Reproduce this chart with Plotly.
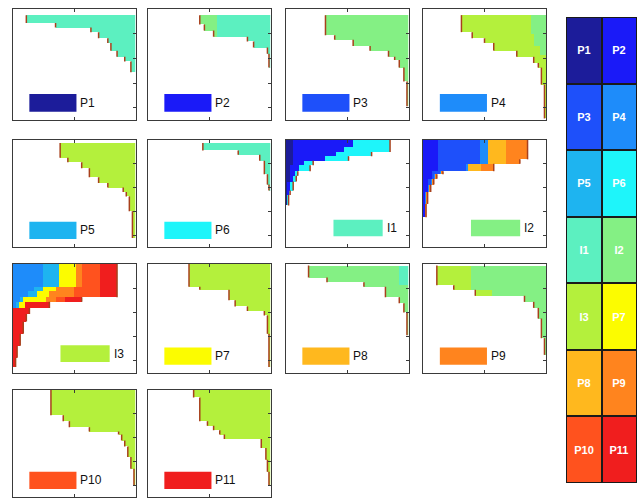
import numpy as np
import plotly.graph_objects as go

# ---------------- data ----------------
names = ["P1", "P2", "P3", "P4", "P5", "P6", "I1", "I2", "I3", "P7", "P8", "P9", "P10", "P11"]
colors = ["#1c1c9a", "#1a1af8", "#1e50fa", "#1e8cfa", "#1eb4f0", "#1ef5fa", "#5cf0c0",
          "#84f084", "#b4f03c", "#fcfc00", "#ffb81e", "#ff841e", "#ff521e", "#f01e1e"]

key_rows = [["P1", "P2"], ["P3", "P4"], ["P5", "P6"], ["I1", "I2"], ["I3", "P7"], ["P8", "P9"], ["P10", "P11"]]
panel_grid = [["P1", "P2", "P3", "P4"], ["P5", "P6", "I1", "I2"], ["I3", "P7", "P8", "P9"], ["P10", "P11"]]

# layer = (colour name, anchor side, first row, [(row_end, column edge), ...])
layers_P1 = [("I1", "R", 2, [(4.5, 4.5), (6, 14), (7.5, 25.5), (9.5, 28), (11, 31), (13.5, 32), (15.5, 34), (17, 36.5), (20.5, 38.5)])]
layers_P2 = [("I1", "R", 2, [(5, 17), (7, 18.5), (9, 21.5), (10.5, 32.5), (12.5, 34.5), (14.5, 39), (19, 39.5)]),
             ("I2", "L", 2, [(9, 22.5)])]
layers_P3 = [("I2", "R", 2, [(8.5, 13), (10, 16), (12, 22), (13.5, 27.5), (15.5, 33.5), (16.5, 35.5), (19, 37), (23.5, 38.5), (31.5, 39.5)])]
layers_P4 = [("I3", "R", 2, [(7.5, 12.5), (9.5, 16), (11, 20), (13.5, 23), (15.5, 30.5), (17.5, 36), (19, 37.5), (24.5, 38.5), (35.5, 39.5)]),
             ("I2", "R", 2, [(8, 35), (12, 36), (15, 38)])]
layers_P5 = [("I3", "R", 1, [(6, 15.5), (7.5, 18), (9.5, 22.5), (12.5, 25), (14.5, 28), (16, 31), (17.5, 36), (19, 37), (24, 38), (33, 39)])]
layers_P6 = [("I1", "R", 1, [(3.5, 18), (5, 29.5), (7, 36.5), (11.5, 38), (15, 39), (17, 39.5)])]
layers_I1 = [("P6", "L", 0, [(4, 34), (5.5, 28), (7, 20.5), (8.5, 9), (10.5, 8), (12, 4), (14, 3.5), (17, 2.5), (18.5, 1.5), (22, 1)]),
             ("P2", "L", 0, [(2.5, 22), (4, 19), (5.5, 16.5), (7, 13), (8.5, 6), (10.5, 4.5), (12, 3), (14, 2.5), (17, 1.5), (18.5, 1), (22, 0.5)]),
             ("P1", "L", 0, [(8.5, 2.5), (14, 1.5), (22, 0.5)])]
layers_I2 = [("P9", "L", 0, [(6.5, 34), (8, 31.5), (10.5, 23), (11.5, 6.5), (13, 4.5), (15, 3.5), (17.5, 2.5), (21.5, 1.5), (26, 1)]),
             ("P8", "L", 0, [(8, 27), (10.5, 19)]),
             ("P4", "L", 0, [(8, 21), (10.5, 14.5), (11.5, 6), (13, 4), (15, 3), (17.5, 2), (21.5, 1), (26, 0.5)]),
             ("P3", "L", 0, [(8, 18.5), (10.5, 14), (11.5, 5.5), (13, 3.5), (15, 2.5), (17.5, 1.5), (21.5, 0.5)]),
             ("P2", "L", 0, [(10.5, 5), (13, 3), (17.5, 1.5), (26, 0.5)])]
layers_I3 = [("P11", "L", 0, [(11, 34), (12.5, 22.5), (14.5, 12), (16.5, 5.5), (19, 4.5), (23, 3.5), (27, 2.5), (31, 1.5), (34, 1)]),
             ("P10", "L", 0, [(11, 28.5), (12.5, 17)]),
             ("P9", "L", 0, [(7.5, 22.5), (11, 20), (12.5, 14)]),
             ("P7", "L", 0, [(7.5, 20.5), (9, 14), (11, 12), (12.5, 11), (14.5, 4)]),
             ("P5", "L", 0, [(7.5, 15.2), (9, 10), (11, 8), (12.5, 3.5), (14.5, 2)]),
             ("P4", "L", 0, [(7.5, 10), (9, 7), (11, 5), (12.5, 2.5), (14.5, 1)])]
layers_P7 = [("I3", "R", 0, [(7.5, 13.5), (8.5, 17), (12, 26.5), (14, 28.5), (15.5, 32.5), (17, 38), (23, 39), (34, 39.5)])]
layers_P8 = [("I2", "R", 0.5, [(4.5, 7.5), (6, 13.5), (7.5, 25.5), (11, 32.5), (13, 37), (16, 38.5), (23.5, 39.5)]),
             ("I1", "R", 0.5, [(7, 37)])]
layers_P9 = [("I2", "R", 0.5, [(7, 4.5), (8.5, 10), (10.5, 17), (12.5, 33), (14.5, 36), (18, 37.5), (24.5, 38.5), (30, 39.5)]),
             ("I3", "L", 0.5, [(8.5, 15.5), (10.5, 22.5)])]
layers_P10 = [("I3", "R", 0, [(8.5, 12.5), (10.5, 16.5), (12.5, 18.5), (14, 25), (15, 34.5), (17, 35.5), (19, 36.5), (22.5, 37.5), (26.5, 38.5), (32, 39.5)])]
layers_P11 = [("I3", "R", 0, [(2.5, 15), (10.5, 17), (12, 19.5), (13.5, 21.5), (15, 23.5), (16.5, 25), (19.5, 37), (23.5, 38.5), (27.5, 39), (32, 39.5)])]

panel_layers = {"P1": layers_P1, "P2": layers_P2, "P3": layers_P3, "P4": layers_P4, "P5": layers_P5,
                "P6": layers_P6, "I1": layers_I1, "I2": layers_I2, "I3": layers_I3, "P7": layers_P7,
                "P8": layers_P8, "P9": layers_P9, "P10": layers_P10, "P11": layers_P11}

# ---------------- layout geometry (pixels) ----------------
W, H = 640, 498
col_left = [12.5, 147.5, 285.5, 423]
panel_w = 123
row_span = [(9, 120), (140, 247), (264, 373), (390, 497)]
key_box = (566, 637, 17, 483)

NX, NY, RES = 80, 72, 0.5
xc = (np.arange(NX) + 0.5) * RES
yc = (np.arange(NY) + 0.5) * RES

cs = []
for i, c in enumerate(colors):
    cs.append([i / len(colors), c])
    cs.append([(i + 1) / len(colors), c])


def paint(layers):
    z = np.full((NY, NX), np.nan)
    for k, (cname, anchor, r0, runs) in enumerate(layers):
        idx = names.index(cname)
        prev = r0
        for r_end, c in runs:
            rows = (yc >= prev) & (yc < r_end)
            cols = (xc >= c) if anchor == "R" else (xc < c)
            mask = np.outer(rows, cols)
            if k > 0:
                mask &= ~np.isnan(z)
            z[mask] = idx + 0.5
            prev = r_end
    return [[None if np.isnan(v) else float(v) for v in row] for row in z]


def edges(layer):
    cname, anchor, r0, runs = layer
    ex, ey = [], []
    prev = r0
    for r_end, c in runs:
        ex += [c, c, None]
        ey += [prev, r_end, None]
        prev = r_end
    return ex, ey


fig = go.Figure()
layout = dict(width=W, height=H, margin=dict(l=0, r=0, t=0, b=0),
              paper_bgcolor="white", plot_bgcolor="white", showlegend=False)
shapes, annotations = [], []

axis_style = dict(showline=True, linecolor="#3a3a3a", linewidth=1,
                  ticks="inside", ticklen=3, tickcolor="#3a3a3a", showticklabels=False,
                  showgrid=False, zeroline=False, fixedrange=True)

n = 0
for r, row in enumerate(panel_grid):
    for c, nm in enumerate(row):
        n += 1
        sfx = "" if n == 1 else str(n)
        l = col_left[c]
        t, b = row_span[r]
        layout["xaxis" + sfx] = dict(domain=[l / W, (l + panel_w) / W], range=[0, 40], mirror="ticks",
                                     anchor="y" + sfx, tickvals=[20], **axis_style)
        layout["yaxis" + sfx] = dict(domain=[1 - b / H, 1 - t / H], range=[36, 0], side="right", mirror=True,
                                     anchor="x" + sfx, tickvals=[8, 16, 24, 32], **axis_style)
        lay = panel_layers[nm]
        fig.add_trace(go.Heatmap(x=xc, y=yc, z=paint(lay), colorscale=cs, zmin=0, zmax=len(colors),
                                 showscale=False, hoverinfo="skip", xaxis="x" + sfx, yaxis="y" + sfx))
        ex, ey = edges(lay[0])
        fig.add_trace(go.Scatter(x=ex, y=ey, mode="lines", line=dict(color="#a8401c", width=1.5),
                                 hoverinfo="skip", xaxis="x" + sfx, yaxis="y" + sfx))
        # legend swatch
        if nm.startswith("I"):
            x0, x1, y0, y1 = 0.39, 0.79, 0.10, 0.255
        else:
            x0, x1, y0, y1 = 0.137, 0.52, 0.075, 0.235
        shapes.append(dict(type="rect", xref="x" + sfx + " domain", yref="y" + sfx + " domain",
                           x0=x0, x1=x1, y0=y0, y1=y1, fillcolor=colors[names.index(nm)],
                           line=dict(width=0), layer="above"))
        annotations.append(dict(text=nm, xref="x" + sfx + " domain", yref="y" + sfx + " domain",
                                x=x1 + 0.015, y=(y0 + y1) / 2, xanchor="left", yanchor="middle",
                                showarrow=False, font=dict(family="Liberation Sans, Arial", size=12, color="#111")))

# ---------------- colour key ----------------
n += 1
sfx = str(n)
kx0, kx1, ky0, ky1 = key_box
layout["xaxis" + sfx] = dict(domain=[kx0 / W, kx1 / W], range=[-0.5, 1.5], anchor="y" + sfx,
                             visible=False, fixedrange=True)
layout["yaxis" + sfx] = dict(domain=[1 - ky1 / H, 1 - ky0 / H], range=[6.5, -0.5], anchor="x" + sfx,
                             visible=False, fixedrange=True)
kz = [[names.index(v) + 0.5 for v in row] for row in key_rows]
fig.add_trace(go.Heatmap(x=[0, 1], y=list(range(len(key_rows))), z=kz, text=key_rows,
                         texttemplate="<b>%{text}</b>",
                         textfont=dict(family="Liberation Sans, Arial", size=11, color="white"),
                         colorscale=cs, zmin=0, zmax=len(colors), showscale=False, xgap=2, ygap=2,
                         hoverinfo="skip", xaxis="x" + sfx, yaxis="y" + sfx))
shapes.append(dict(type="rect", xref="x" + sfx, yref="y" + sfx, x0=-0.5, x1=1.5, y0=-0.5, y1=6.5,
                   fillcolor="#1a1a1a", line=dict(color="#1a1a1a", width=1.5), layer="below"))

layout["shapes"] = shapes
layout["annotations"] = annotations
fig.update_layout(**layout)
fig.write_html("out.html", config={"displayModeBar": False},
               post_script="document.body.style.margin='0';document.body.style.overflow='hidden';")
